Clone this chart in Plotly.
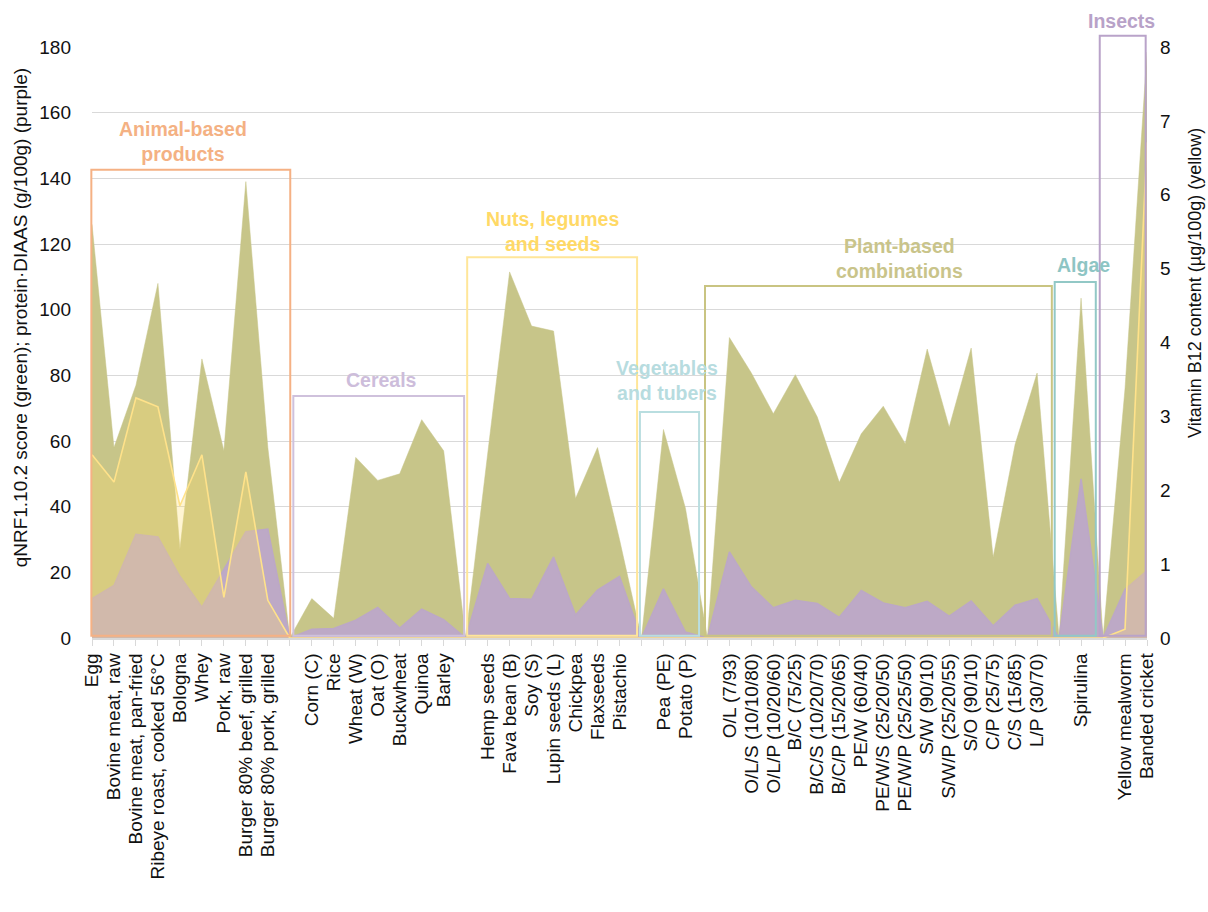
import plotly.graph_objects as go

# ---------------- data ----------------
categories = [
    "Egg", "Bovine meat, raw", "Bovine meat, pan-fried", "Ribeye roast, cooked 56°C",
    "Bologna", "Whey", "Pork, raw", "Burger 80% beef, grilled", "Burger 80% pork, grilled", "",
    "Corn (C)", "Rice", "Wheat (W)", "Oat (O)", "Buckwheat", "Quinoa", "Barley", "",
    "Hemp seeds", "Fava bean (B)", "Soy (S)", "Lupin seeds (L)", "Chickpea", "Flaxseeds", "Pistachio", "",
    "Pea (PE)", "Potato (P)", "",
    "O/L (7/93)", "O/L/S (10/10/80)", "O/L/P (10/20/60)", "B/C (75/25)", "B/C/S (10/20/70)",
    "B/C/P (15/20/65)", "PE/W (60/40)", "PE/W/S (25/20/50)", "PE/W/P (25/25/50)", "S/W (90/10)",
    "S/W/P (25/20/55)", "S/O (90/10)", "C/P (25/75)", "C/S (15/85)", "L/P (30/70)", "",
    "Spirulina", "",
    "Yellow mealworm", "Banded cricket",
]

qnrf_score = [
    126, 58, 77, 108, 27, 85, 57, 139, 58, 0,
    12, 6, 55, 48, 50, 66.5, 57, 0,
    56, 111.5, 95, 93.5, 42.5, 58, 30, 0,
    63.5, 39.5, 0,
    91.5, 80.7, 68.3, 80.2, 67.3, 47.4, 62.2, 70.6, 59.2, 88, 64.2, 88.3, 24.6, 59, 80.7, 0,
    103.5, 0,
    76, 178.5,
]

protein_diaas = [
    12, 16, 31.6, 30.8, 18.8, 9.4, 20.9, 32.4, 33.2, 0,
    2.7, 2.9, 5.4, 9.3, 3.0, 8.8, 5.6, 0,
    22.7, 12, 11.8, 24.7, 7, 14.6, 18.8, 0,
    15, 1.8, 0,
    26.2, 15.6, 9.2, 11.5, 10.5, 6.3, 14.5, 10.7, 9.2, 11.2, 6.7, 11.3, 3.7, 10, 12, 0,
    48.5, 0,
    14.8, 20.5,
]

vitamin_b12 = [
    2.48, 2.11, 3.25, 3.13, 1.79, 2.48, 0.55, 2.25, 0.51, 0,
    0, 0, 0, 0, 0, 0, 0, 0,
    0, 0, 0, 0, 0, 0, 0, 0,
    0, 0, 0,
    0, 0, 0, 0, 0, 0, 0, 0, 0, 0, 0, 0, 0, 0, 0, 0,
    0, 0,
    0.12, 6.71,
]

# group boxes: label, x-start, x-end (category units), box top (left-axis units),
# label x (category units), label y (left-axis units), colour
group_labels = ["Animal-based<br>products", "Cereals", "Nuts, legumes<br>and seeds",
                "Vegetables<br>and tubers", "Plant-based<br>combinations", "Algae", "Insects"]
group_x0 = [-0.03, 9.16, 17.07, 24.93, 27.89, 43.8, 45.85]
group_x1 = [9.02, 16.93, 24.8, 27.62, 43.67, 45.67, 47.94]
group_top = [142.6, 73.7, 116.0, 68.8, 107.2, 108.4, 183.4]
group_lx = [4.15, 13.16, 20.93, 26.16, 36.76, 45.1, 46.85]
group_ly = [151.1, 78.6, 123.7, 78.3, 115.7, 113.6, 187.9]
group_line_colors = ["#F5B184", "#CFC1DC", "#FFE699", "#B9DEE0", "#C9C482", "#92C8C6", "#B9A3C9"]
group_text_colors = ["#F4B183", "#CDBDDB", "#FFD966", "#B7DCDF", "#C9C48A", "#8EC5C4", "#B8A2C8"]

Y_MAX = 180
Y2_MAX = 8
x_idx = list(range(len(categories)))
X_MIN, X_MAX = 0, len(categories) - 1

FONT = "Liberation Sans, Arial, sans-serif"

fig = go.Figure()

fig.add_trace(go.Scatter(
    x=x_idx, y=qnrf_score, mode="lines", fill="tozeroy",
    line=dict(color="#C7C589", width=0.5), fillcolor="#C7C589",
    name="qNRF1.10.2 score", showlegend=False, hoverinfo="skip",
))
fig.add_trace(go.Scatter(
    x=x_idx, y=protein_diaas, mode="lines", fill="tozeroy",
    line=dict(color="#BCA8C6", width=1.5), fillcolor="#BDA9C6",
    name="protein-DIAAS", showlegend=False, hoverinfo="skip",
))
fig.add_trace(go.Scatter(
    x=x_idx, y=vitamin_b12, mode="lines", fill="tozeroy", yaxis="y2",
    line=dict(color="#FFE28A", width=1.6), fillcolor="rgba(255,222,110,0.30)",
    name="Vitamin B12", showlegend=False, hoverinfo="skip",
))

shapes = []
annotations = []
span = X_MAX - X_MIN
for lab, x0, x1, top, lx, ly, lc, tc in zip(group_labels, group_x0, group_x1, group_top,
                                             group_lx, group_ly, group_line_colors, group_text_colors):
    shapes.append(dict(
        type="rect", xref="x domain", yref="y domain",
        x0=(x0 - X_MIN) / span, x1=(x1 - X_MIN) / span,
        y0=0.004, y1=top / Y_MAX,
        line=dict(color=lc, width=2), fillcolor="rgba(0,0,0,0)", layer="above",
    ))
    annotations.append(dict(
        text="<b>" + lab + "</b>", xref="x", yref="paper", x=lx, y=ly / Y_MAX,
        showarrow=False, xanchor="center", yanchor="middle", align="center",
        font=dict(family=FONT, size=19.5, color=tc),
    ))

# axis titles
annotations.append(dict(
    text="qNRF1.10.2 score (green); protein·DIAAS (g/100g) (purple)",
    xref="paper", yref="paper", x=-0.068, y=0.543, textangle=-90, showarrow=False,
    xanchor="center", yanchor="middle", font=dict(family=FONT, size=19, color="#111111"),
))
annotations.append(dict(
    text="Vitamin B12 content (µg/100g) (yellow)",
    xref="paper", yref="paper", x=1.046, y=0.60, textangle=-90, showarrow=False,
    xanchor="center", yanchor="middle", font=dict(family=FONT, size=18, color="#111111"),
))

fig.update_layout(
    width=1208, height=912,
    margin=dict(l=92, r=61, t=47, b=274),
    paper_bgcolor="white", plot_bgcolor="white",
    font=dict(family=FONT, size=19, color="#111111"),
    xaxis=dict(
        range=[X_MIN, X_MAX], tickmode="array", tickvals=x_idx, ticktext=categories,
        tickangle=-90, ticks="outside", ticklen=6, tickcolor="#D9D9D9", tickwidth=1,
        showline=True, linecolor="#D9D9D9", linewidth=1.5, showgrid=False, zeroline=False,
        tickfont=dict(family=FONT, size=19, color="#111111"),
    ),
    yaxis=dict(
        range=[0, Y_MAX], dtick=20, showgrid=True, gridcolor="#D9D9D9", gridwidth=1.2,
        zeroline=False, showline=False, ticks="", ticklabelstandoff=20,
        tickfont=dict(family=FONT, size=19, color="#111111"),
    ),
    yaxis2=dict(
        range=[0, Y2_MAX], dtick=1, overlaying="y", side="right", showgrid=False,
        zeroline=False, showline=False, ticks="", ticklabelstandoff=12,
        tickfont=dict(family=FONT, size=19, color="#111111"),
    ),
    shapes=shapes, annotations=annotations,
)

fig.write_html("out.html")
